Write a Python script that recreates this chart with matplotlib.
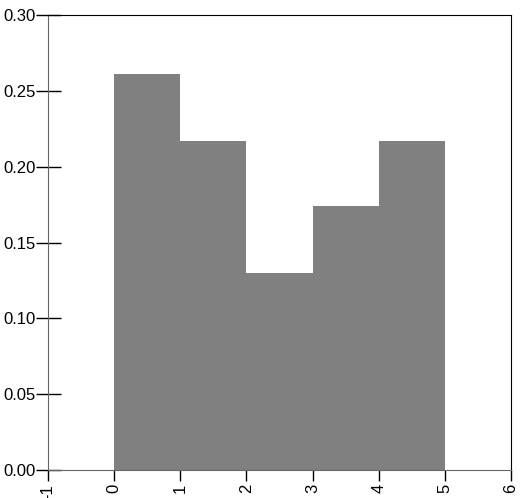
import matplotlib
matplotlib.use("Agg")
import matplotlib.pyplot as plt

# bin edges and heights
binEdges = [0, 1, 2, 3, 4, 5]
heights = [0.261, 0.217, 0.130, 0.174, 0.217]
xTicks = [-1, 0, 1, 2, 3, 4, 5, 6]
yTicks = [0.00, 0.05, 0.10, 0.15, 0.20, 0.25, 0.30]

plt.rcParams['font.family'] = ['Liberation Sans', 'DejaVu Sans']

fig = plt.figure(figsize=(5.21, 4.98), dpi=100)
ax = fig.add_axes([0.092, 0.056, 0.889, 0.914])

# step histogram filled in gray
ax.stairs(heights, binEdges, fill=True, color='#808080', linewidth=0)

ax.set_xlim(-1, 6)
ax.set_ylim(0, 0.30)
ax.set_xticks(xTicks)
ax.set_xticklabels([str(t) for t in xTicks], rotation=90)
ax.set_yticks(yTicks)
ax.set_yticklabels(['%.2f' % t for t in yTicks])

ax.tick_params(axis='y', direction='inout', length=18, width=1, labelsize=12, pad=0)
ax.tick_params(axis='x', direction='out', length=8, width=1, labelsize=12, pad=2)

for side in ['left', 'bottom']:
    ax.spines[side].set_color('#666666')
for side in ['top', 'right']:
    ax.spines[side].set_color('black')

fig.savefig('out.png', dpi=100)
